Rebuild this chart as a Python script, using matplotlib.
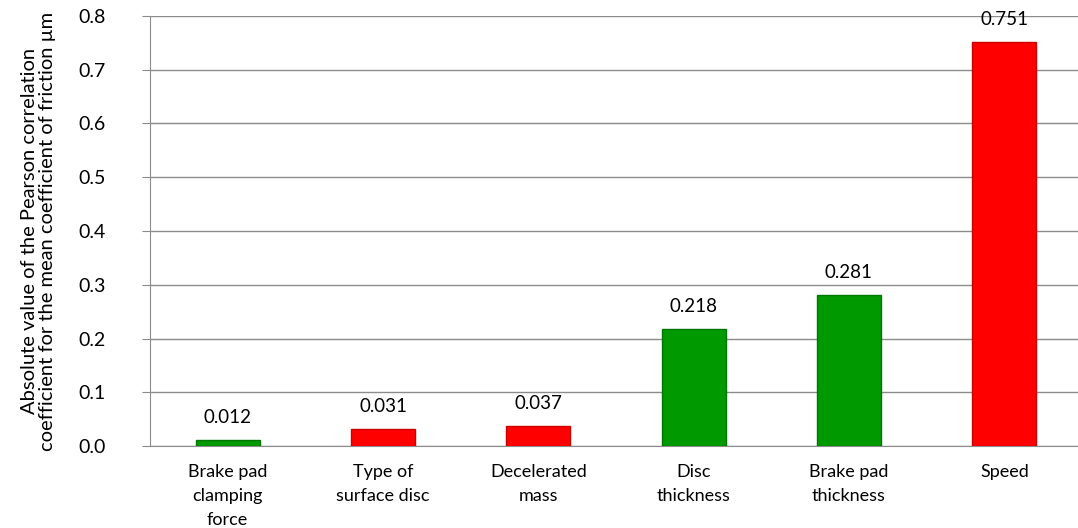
import matplotlib.pyplot as plt
import numpy as np

plt.rcParams['font.family'] = ['Lato', 'DejaVu Sans']

categories = ['Brake pad\nclamping\nforce', 'Type of\nsurface disc', 'Decelerated\nmass',
              'Disc\nthickness', 'Brake pad\nthickness', 'Speed']
values = [0.012, 0.031, 0.037, 0.218, 0.281, 0.751]
colours = ['#009900', '#ff0000', '#ff0000', '#009900', '#009900', '#ff0000']
edges = ['#007700', '#cc0000', '#cc0000', '#007700', '#007700', '#cc0000']

fig = plt.figure(figsize=(10.78, 5.28), dpi=100)
ax = fig.add_axes([150 / 1078, 1 - 446 / 528, 932 / 1078, 430 / 528])

x = np.arange(len(categories))
ax.bar(x, values, width=0.41, color=colours, edgecolor=edges, linewidth=1, zorder=3)

# value labels above each bar
for xi, v in zip(x, values):
    ax.annotate(f'{v:.3f}', (xi, v), xytext=(0, 14), textcoords='offset pixels',
                ha='center', va='bottom', fontsize=13.5)

ax.set_xlim(-0.5, len(categories) - 0.5)
ax.set_ylim(0, 0.8)
yt = np.arange(0, 0.81, 0.1)
ax.set_yticks(yt)
ax.set_yticklabels([f'{t:.1f}' for t in yt], fontsize=14)
ax.set_xticks(x)
ax.set_xticklabels(categories, fontsize=13, linespacing=1.6, va='top')
ax.tick_params(axis='x', length=0, pad=13)
ax.tick_params(axis='y', length=6, color='#8c8c8c', pad=26)

ax.grid(axis='y', color='#8c8c8c', linewidth=1, zorder=0)
for side in ['top', 'right']:
    ax.spines[side].set_visible(False)
ax.spines['left'].set_color('#8c8c8c')
ax.spines['bottom'].set_color('#8c8c8c')

ax.set_ylabel('Absolute value of the Pearson correlation\ncoefficient for the mean coefficient of friction µm',
              fontsize=14.5, linespacing=1.1, labelpad=16)

fig.savefig('out.png', dpi=100)
